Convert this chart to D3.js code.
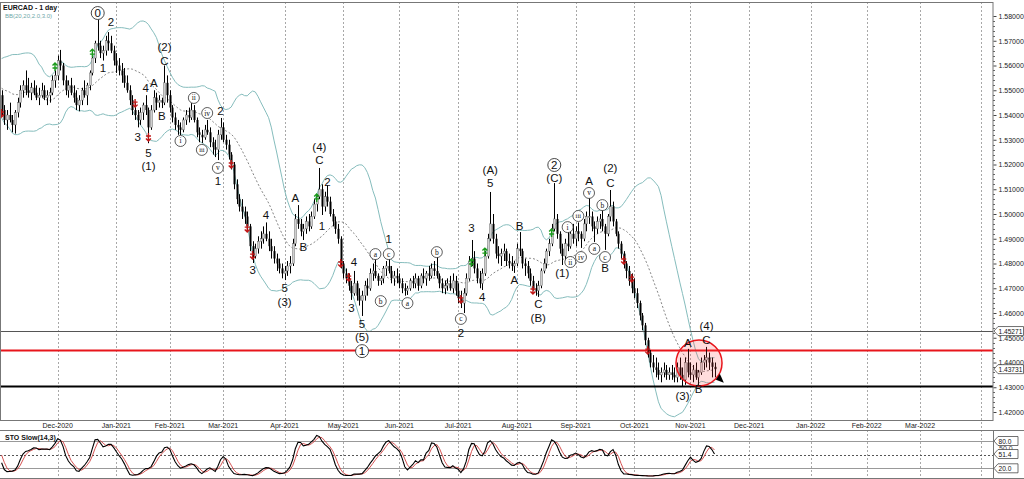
<!DOCTYPE html>
<html><head><meta charset="utf-8">
<script src="https://cdn.jsdelivr.net/npm/d3@7"></script>
<style>body{margin:0;background:#fff}svg{display:block;font-family:"Liberation Sans",Arial,sans-serif}</style>
</head><body><svg id="c" width="1024" height="479"></svg>
<script>
// ---------- DATA ----------
const symbolTitle = "EURCAD - 1 day";
const bbTitle = "BB(20,20,2.0,3.0)";
const stoTitle = "STO Slow(14,3)";
const startDate = "2020-11-02";
const holidays = ["2020-12-25","2021-01-01"];
const monthTicks = ["2020-12","2021-01","2021-02","2021-03","2021-04","2021-05","2021-06","2021-07","2021-08","2021-09","2021-10","2021-11","2021-12","2022-01","2022-02","2022-03"];
const priceTicks = [1.42,1.43,1.44,1.45,1.46,1.47,1.48,1.49,1.50,1.51,1.52,1.53,1.54,1.55,1.56,1.57,1.58];

// October 2020 bars (before the visible window, for the indicators)
const preHigh = [1.5600,1.5580,1.5540,1.5510,1.5530,1.5520,1.5490,1.5480,1.5460,1.5490,1.5510,1.5560,1.5590,1.5630,1.5650,1.5630,1.5640,1.5610,1.5570,1.5530];
const preLow  = [1.5530,1.5500,1.5460,1.5440,1.5450,1.5450,1.5420,1.5410,1.5390,1.5410,1.5440,1.5470,1.5510,1.5550,1.5580,1.5560,1.5570,1.5530,1.5490,1.5460];
const preClose= [1.5560,1.5520,1.5480,1.5470,1.5500,1.5470,1.5450,1.5440,1.5420,1.5460,1.5480,1.5530,1.5560,1.5600,1.5620,1.5580,1.5600,1.5560,1.5520,1.5480];

const highs = [
1.5500,1.5440,1.5420,1.5450,1.5400,1.5420,1.5470,1.5520,1.5540,1.5580,1.5550,1.5530,1.5540,1.5520,1.5510,1.5530,1.5520,1.5500,1.5510,1.5560,1.5580,
1.5640,1.5663,1.5610,1.5560,1.5540,1.5550,1.5520,1.5500,1.5480,1.5510,1.5540,1.5530,1.5580,1.5640,1.5700,1.5785,1.5700,1.5680,1.5720,1.5735,1.5720,1.5680,
1.5650,1.5630,1.5610,1.5590,1.5560,1.5520,1.5480,1.5450,1.5420,1.5430,1.5450,1.5480,1.5430,1.5440,1.5500,1.5490,1.5480,1.5470,1.5600,1.5560,
1.5500,1.5440,1.5410,1.5380,1.5370,1.5390,1.5420,1.5430,1.5448,1.5440,1.5390,1.5350,1.5340,1.5360,1.5380,1.5350,1.5310,1.5300,1.5340,1.5388,
1.5370,1.5320,1.5300,1.5250,1.5210,1.5140,1.5080,1.5060,1.5030,1.5010,1.4960,1.4890,1.4880,1.4910,1.4930,1.4950,1.4966,1.4930,1.4900,1.4870,1.4840,1.4820,1.4800,
1.4790,1.4810,1.4830,1.4900,1.5000,1.5036,1.4980,1.4960,1.4990,1.5000,1.5010,1.5060,1.5080,1.5186,1.5120,1.5090,1.5117,1.5070,1.5020,1.4990,1.4960,1.4910,
1.4810,1.4780,1.4760,1.4730,1.4770,1.4730,1.4700,1.4690,1.4730,1.4740,1.4780,1.4800,1.4822,1.4760,1.4750,1.4790,1.4810,1.4834,1.4790,1.4770,1.4780,
1.4760,1.4740,1.4720,1.4710,1.4740,1.4750,1.4760,1.4750,1.4760,1.4780,1.4770,1.4790,1.4800,1.4810,1.4834,1.4760,1.4740,1.4730,1.4740,1.4750,1.4760,1.4750,
1.4720,1.4690,1.4700,1.4760,1.4830,1.4895,1.4850,1.4800,1.4770,1.4780,1.4850,1.4920,1.5089,1.5000,1.4920,1.4870,1.4860,1.4880,1.4860,1.4840,1.4830,1.4810,
1.4880,1.4927,1.4860,1.4820,1.4810,1.4780,1.4750,1.4720,1.4730,1.4780,1.4820,1.4860,1.4900,1.4960,1.5125,1.5000,1.4930,1.4880,1.4900,1.4930,1.4940,1.4960,
1.4950,1.4966,1.4930,1.4980,1.5010,1.5065,1.5010,1.4970,1.4990,1.5000,1.5020,1.4960,1.5000,1.5097,1.5050,1.4980,1.4930,1.4890,1.4850,1.4810,1.4790,1.4760,
1.4740,1.4700,1.4650,1.4600,1.4560,1.4500,1.4450,1.4430,1.4420,1.4400,1.4380,1.4400,1.4390,1.4380,1.4390,1.4380,1.4400,1.4420,1.4380,1.4420,1.4455,
1.4400,1.4390,1.4400,1.4370,1.4420,1.4430,1.4463,1.4440,1.4420,1.4400];
const lows = [
1.5400,1.5360,1.5340,1.5370,1.5330,1.5325,1.5390,1.5430,1.5470,1.5480,1.5470,1.5460,1.5480,1.5460,1.5440,1.5470,1.5460,1.5440,1.5450,1.5480,1.5510,
1.5540,1.5580,1.5520,1.5480,1.5470,1.5480,1.5450,1.5420,1.5415,1.5440,1.5470,1.5440,1.5500,1.5560,1.5610,1.5660,1.5630,1.5620,1.5640,1.5660,1.5650,1.5600,
1.5570,1.5560,1.5530,1.5510,1.5490,1.5440,1.5400,1.5380,1.5350,1.5360,1.5380,1.5400,1.5286,1.5340,1.5410,1.5420,1.5430,1.5428,1.5440,1.5450,
1.5410,1.5370,1.5340,1.5320,1.5319,1.5330,1.5360,1.5370,1.5380,1.5370,1.5310,1.5290,1.5287,1.5300,1.5320,1.5270,1.5240,1.5230,1.5218,1.5300,
1.5290,1.5260,1.5220,1.5180,1.5100,1.5040,1.5010,1.4980,1.4960,1.4935,1.4850,1.4802,1.4820,1.4840,1.4860,1.4880,1.4890,1.4850,1.4820,1.4800,1.4770,1.4760,1.4740,
1.4733,1.4750,1.4760,1.4790,1.4870,1.4940,1.4910,1.4895,1.4920,1.4930,1.4940,1.4980,1.5010,1.5060,1.4996,1.5010,1.5030,1.4990,1.4950,1.4920,1.4880,1.4780,
1.4740,1.4720,1.4690,1.4653,1.4670,1.4650,1.4630,1.4588,1.4650,1.4670,1.4690,1.4730,1.4740,1.4710,1.4713,1.4720,1.4750,1.4760,1.4720,1.4710,1.4720,
1.4700,1.4680,1.4670,1.4673,1.4690,1.4700,1.4700,1.4690,1.4700,1.4720,1.4710,1.4730,1.4740,1.4750,1.4740,1.4700,1.4680,1.4676,1.4690,1.4690,1.4680,1.4670,
1.4640,1.4620,1.4600,1.4670,1.4730,1.4790,1.4760,1.4720,1.4700,1.4693,1.4750,1.4820,1.4890,1.4880,1.4820,1.4800,1.4790,1.4810,1.4790,1.4780,1.4770,1.4762,
1.4790,1.4830,1.4780,1.4750,1.4740,1.4710,1.4690,1.4670,1.4665,1.4700,1.4760,1.4780,1.4830,1.4870,1.4930,1.4900,1.4840,1.4794,1.4810,1.4850,1.4860,1.4880,
1.4870,1.4890,1.4863,1.4890,1.4930,1.4960,1.4930,1.4887,1.4920,1.4940,1.4930,1.4855,1.4910,1.4970,1.4950,1.4910,1.4860,1.4820,1.4780,1.4740,1.4710,1.4680,
1.4660,1.4620,1.4570,1.4530,1.4470,1.4420,1.4380,1.4360,1.4340,1.4330,1.4320,1.4340,1.4330,1.4330,1.4330,1.4320,1.4320,1.4330,1.4303,1.4310,1.4340,
1.4330,1.4320,1.4330,1.4309,1.4350,1.4370,1.4380,1.4370,1.4340,1.4340];
const closes = [
1.5420,1.5380,1.5400,1.5380,1.5360,1.5410,1.5450,1.5500,1.5520,1.5500,1.5490,1.5510,1.5490,1.5470,1.5480,1.5500,1.5470,1.5480,1.5490,1.5540,1.5560,
1.5620,1.5600,1.5540,1.5500,1.5520,1.5490,1.5470,1.5440,1.5460,1.5500,1.5480,1.5520,1.5570,1.5630,1.5690,1.5680,1.5650,1.5660,1.5700,1.5690,1.5660,1.5620,
1.5600,1.5580,1.5560,1.5530,1.5500,1.5460,1.5420,1.5400,1.5380,1.5410,1.5440,1.5420,1.5350,1.5420,1.5470,1.5450,1.5460,1.5450,1.5530,1.5480,
1.5430,1.5390,1.5360,1.5350,1.5340,1.5380,1.5400,1.5390,1.5420,1.5380,1.5330,1.5320,1.5310,1.5340,1.5330,1.5290,1.5270,1.5260,1.5320,1.5350,
1.5300,1.5280,1.5240,1.5200,1.5120,1.5060,1.5030,1.5010,1.4990,1.4950,1.4870,1.4830,1.4860,1.4890,1.4900,1.4920,1.4900,1.4870,1.4850,1.4820,1.4800,1.4780,1.4760,
1.4770,1.4790,1.4800,1.4880,1.4980,1.4960,1.4930,1.4940,1.4970,1.4950,1.4990,1.5040,1.5070,1.5100,1.5030,1.5070,1.5050,1.5000,1.4970,1.4940,1.4900,1.4800,
1.4760,1.4740,1.4710,1.4680,1.4720,1.4670,1.4650,1.4670,1.4710,1.4700,1.4760,1.4770,1.4750,1.4730,1.4740,1.4780,1.4790,1.4770,1.4740,1.4750,1.4740,
1.4720,1.4700,1.4690,1.4700,1.4730,1.4720,1.4740,1.4710,1.4750,1.4740,1.4760,1.4750,1.4780,1.4770,1.4750,1.4720,1.4700,1.4710,1.4720,1.4700,1.4730,1.4690,
1.4660,1.4640,1.4680,1.4740,1.4810,1.4820,1.4780,1.4740,1.4720,1.4760,1.4830,1.4900,1.4960,1.4900,1.4840,1.4830,1.4840,1.4850,1.4810,1.4800,1.4790,1.4800,
1.4860,1.4850,1.4800,1.4790,1.4760,1.4730,1.4700,1.4690,1.4710,1.4770,1.4800,1.4850,1.4880,1.4940,1.4980,1.4920,1.4860,1.4830,1.4880,1.4870,1.4920,1.4900,
1.4930,1.4920,1.4900,1.4960,1.4990,1.4990,1.4950,1.4940,1.4970,1.4980,1.4950,1.4920,1.4990,1.5030,1.4970,1.4920,1.4880,1.4840,1.4800,1.4770,1.4730,1.4700,
1.4680,1.4640,1.4590,1.4550,1.4490,1.4440,1.4400,1.4380,1.4370,1.4350,1.4360,1.4370,1.4350,1.4360,1.4350,1.4340,1.4380,1.4350,1.4330,1.4400,1.4360,
1.4350,1.4370,1.4340,1.4360,1.4400,1.4410,1.4420,1.4400,1.43825,1.43731];

const upArrows = [[20,1.5594],[34,1.5650],[118,1.5065],[176,1.4802],[181,1.4846],[206,1.4923]];
const downArrows = [[0,1.5408],[50,1.5448],[55,1.5311],[86,1.5202],[92,1.4943],[94,1.4834],[127,1.4802],[130,1.4745],[172,1.4657],[199,1.4693],[233,1.4814],[236,1.4741],[242,1.4450]];

// [bar index, price, text, kind]  kind 0 = plain, 1 = small circled, 2 = circled digit
const waveLabels = [
[36,1.5812,"0",2],[41,1.5776,"2",0],[38,1.5590,"1",0],
[61,1.5675,"(2)",0],[61,1.5618,"C",0],[57,1.5529,"A",0],[54,1.5509,"4",0],[60,1.5396,"B",0],
[51,1.5311,"3",0],[55,1.5246,"5",0],[55,1.5194,"(1)",0],
[72,1.5469,"ii",1],[77,1.5408,"iv",1],[67,1.5295,"i",1],[75,1.5259,"iii",1],[81,1.5186,"v",1],[81,1.5133,"1",0],[82,1.5416,"2",0],
[99,1.4996,"4",0],[94,1.4774,"3",0],[106,1.4701,"5",0],[106,1.4644,"(3)",0],
[110,1.5065,"A",0],[113,1.4867,"B",0],[119,1.5271,"(4)",0],[119,1.5218,"C",0],[122,1.5129,"2",0],[120,1.4952,"1",0],
[132,1.4806,"4",0],[131,1.4620,"3",0],[135,1.4556,"5",0],[135,1.4503,"(5)",0],[135,1.4446,"1",2],
[140,1.4838,"a",1],[142,1.4648,"b",1],[145,1.4838,"c",1],[145,1.4899,"1",0],
[152,1.4640,"a",1],[163,1.4846,"b",1],[172,1.4576,"c",1],[172,1.4519,"2",0],
[176,1.4943,"3",0],[180,1.4665,"4",0],[183,1.5125,"5",0],[183,1.5178,"(A)",0],
[194,1.4952,"B",0],[192,1.4733,"A",0],[201,1.4636,"C",0],[201,1.4580,"(B)",0],
[207,1.5145,"(C)",0],[207,1.5198,"2",2],
[210,1.4762,"(1)",0],[213,1.4806,"ii",1],[212,1.4947,"i",1],[216,1.4992,"iii",1],[217,1.4826,"iv",1],[220,1.5085,"v",1],[220,1.5133,"A",0],
[222,1.4859,"a",1],[225,1.5036,"b",1],[226,1.4826,"c",1],[226,1.4782,"B",0],[228,1.5184,"(2)",0],[228,1.5125,"C",0],
[257,1.4479,"A",0],[261,1.4293,"B",0],[264,1.4546,"(4)",0],[264,1.4491,"C",0],[255,1.4265,"(3)",0]];

const levels = [1.45271, 1.4450, 1.4305];
const lastPrice = 1.43731;
const focus = [261.2, 1.4398];     // highlighted zone (bar index, price)
const pointer = [269, 1.4338];     // forecast arrow (bar index, price)
const stoLevels = [80, 50, 20];

// ---------- LAYOUT ----------
const svg = d3.select("#c");
const axisX = 993, mainTop = 2, mainBot = 420, stTop = 431, stBot = 478;
const x = d3.scaleLinear().domain([0, 344]).range([1.6, 920.1]);
const y = d3.scaleLinear().domain([1.42, 1.58]).range([412, 16]);
const ys = d3.scaleLinear().domain([0, 100]).range([477.4, 431.9]);

const defs = svg.append("defs");
defs.append("clipPath").attr("id","cm").append("rect").attr("x",0).attr("y",mainTop).attr("width",axisX).attr("height",mainBot-mainTop);
defs.append("clipPath").attr("id","cs").append("rect").attr("x",0).attr("y",stTop).attr("width",axisX).attr("height",stBot-stTop);

// dates
const parse = d3.utcParse("%Y-%m-%d"), fmt = d3.utcFormat("%Y-%m-%d");
const dates = [];
for (let d = parse(startDate); dates.length < 360; d = d3.utcDay.offset(d, 1)) {
  const wd = d.getUTCDay();
  if (wd === 0 || wd === 6) continue;
  if (holidays.includes(fmt(d))) continue;
  dates.push(d);
}
const monthIdx = monthTicks.map(m => dates.findIndex(d => fmt(d).slice(0,7) === m));
const monFmt = d3.utcFormat("%b-%Y");

// vertical grid
svg.append("g").selectAll("line").data(monthIdx).join("line")
  .attr("x1", d => Math.round(x(d))+0.5).attr("x2", d => Math.round(x(d))+0.5)
  .attr("y1", mainTop).attr("y2", stBot)
  .attr("stroke", "#a8a8a8").attr("stroke-width", 1).attr("stroke-dasharray", "2,2");
svg.append("line").attr("x1",981.5).attr("x2",981.5).attr("y1",mainTop).attr("y2",stBot)
  .attr("stroke","#a8a8a8").attr("stroke-dasharray","2,2");

// date labels
svg.append("g").selectAll("text").data(monthIdx).join("text")
  .attr("x", d => x(d)).attr("y", 428).attr("text-anchor","middle")
  .attr("font-size", 7).attr("fill", "#222")
  .text((d) => monFmt(dates[d]));

// ---------- INDICATORS ----------
const allH = preHigh.concat(highs), allL = preLow.concat(lows), allC = preClose.concat(closes);
const off = preClose.length;
const bb = closes.map((c, i) => {
  const k = i + off, w = allC.slice(k-19, k+1);
  const m = d3.mean(w), sd = Math.sqrt(d3.mean(w, v => (v-m)*(v-m)));
  return {i, m, up: m + 2*sd, lo: m - 2*sd};
});
const LL = allL.map((v,k) => k < 13 ? null : d3.min(allL.slice(k-13,k+1)));
const HH = allH.map((v,k) => k < 13 ? null : d3.max(allH.slice(k-13,k+1)));
const K = allC.map((c,k) => {
  if (k < 15) return null;
  let a = 0, b = 0;
  for (let j = k-2; j <= k; j++) { a += allC[j]-LL[j]; b += HH[j]-LL[j]; }
  return b ? 100*a/b : 50;
});
const D = K.map((v,k) => k < 17 ? null : (K[k]+K[k-1]+K[k-2])/3);
const sto = closes.map((c,i) => ({i, k: K[i+off], d: D[i+off]}));

// ---------- MAIN PANEL ----------
const gm = svg.append("g").attr("clip-path","url(#cm)");
const lineBB = key => d3.line().x(d => x(d.i)).y(d => y(d[key]));
gm.append("path").datum(bb).attr("d", lineBB("up")).attr("fill","none").attr("stroke","#86bdbd").attr("stroke-width",1);
gm.append("path").datum(bb).attr("d", lineBB("lo")).attr("fill","none").attr("stroke","#86bdbd").attr("stroke-width",1);
gm.append("path").datum(bb).attr("d", lineBB("m")).attr("fill","none").attr("stroke","#666").attr("stroke-width",0.8).attr("stroke-dasharray","2,2");

// levels
const levStyle = [{c:"#555",w:1},{c:"#e8151b",w:2},{c:"#000",w:2}];
gm.selectAll(".lev").data(levels).join("line").attr("class","lev")
  .attr("x1",0).attr("x2",axisX).attr("y1",d=>Math.round(y(d))+0.5).attr("y2",d=>Math.round(y(d))+0.5)
  .attr("stroke",(d,i)=>levStyle[i].c).attr("stroke-width",(d,i)=>levStyle[i].w);

// candles
const bars = closes.map((c,i) => ({i, o: i ? closes[i-1] : preClose[preClose.length-1], h: highs[i], l: lows[i], c}));
const gb = gm.append("g");
gb.selectAll("line").data(bars).join("line")
  .attr("x1", d => Math.round(x(d.i))+0.5).attr("x2", d => Math.round(x(d.i))+0.5)
  .attr("y1", d => y(Math.max(d.h,d.o,d.c))).attr("y2", d => y(Math.min(d.l,d.o,d.c)))
  .attr("stroke","#000").attr("stroke-width",1);
gb.selectAll("rect").data(bars).join("rect")
  .attr("x", d => Math.round(x(d.i))-0.5).attr("width", 2)
  .attr("y", d => y(Math.max(d.o,d.c))).attr("height", d => Math.max(1, Math.abs(y(d.o)-y(d.c))))
  .attr("fill", d => d.c >= d.o ? "#cfcfcf" : "#000")
  .attr("stroke", d => d.c >= d.o ? "#555" : "none").attr("stroke-width",0.4);

// signal arrows
const ga = gm.append("g");
ga.selectAll(".ua").data(upArrows).join("path").attr("class","ua")
  .attr("transform", d => `translate(${x(d[0])},${y(d[1])})`)
  .attr("d","M0,-4L0,4M-2.5,-1.5L0,-4L2.5,-1.5M-2.5,1L2.5,1")
  .attr("stroke","#1a9a1a").attr("stroke-width",1.4).attr("fill","none");
ga.selectAll(".da").data(downArrows).join("path").attr("class","da")
  .attr("transform", d => `translate(${x(d[0])},${y(d[1])})`)
  .attr("d","M0,-4L0,4M-2.5,1.5L0,4L2.5,1.5M-2.5,-1L2.5,-1")
  .attr("stroke","#c01818").attr("stroke-width",1.4).attr("fill","none");

// focus circle
gm.append("circle").attr("cx", x(focus[0])).attr("cy", y(focus[1])).attr("r", 23)
  .attr("fill","rgba(255,60,60,0.18)").attr("stroke","#e8151b").attr("stroke-width",1.5);
// pointer
const px = x(pointer[0]), py = y(pointer[1]);
gm.append("path").attr("d", `M${px+4},${py+5}L${px-4},${py+2}L${px},${py-4}Z`).attr("fill","#000");

// wave labels
const gw = gm.append("g");
waveLabels.forEach(([i, p, t, k]) => {
  const cx = x(i), cy = y(p);
  if (k === 0) {
    gw.append("text").attr("x",cx).attr("y",cy+4).attr("text-anchor","middle")
      .attr("font-size",11.5).attr("fill","#111").text(t);
  } else if (k === 1) {
    gw.append("circle").attr("cx",cx).attr("cy",cy).attr("r",5.5).attr("fill","#fff").attr("stroke","#333").attr("stroke-width",0.8);
    gw.append("text").attr("x",cx).attr("y",cy+2.5).attr("text-anchor","middle")
      .attr("font-family","'Liberation Serif',serif").attr("font-size",t.length>2?6.5:7.5).attr("fill","#111").text(t);
  } else {
    gw.append("circle").attr("cx",cx).attr("cy",cy).attr("r",6.5).attr("fill","#fff").attr("stroke","#333").attr("stroke-width",0.9);
    gw.append("text").attr("x",cx).attr("y",cy+4).attr("text-anchor","middle")
      .attr("font-size",11.5).attr("fill","#111").text(t);
  }
});

// titles
svg.append("text").attr("x",3).attr("y",10).attr("font-size",7).attr("font-weight","bold").attr("fill","#111").text(symbolTitle);
svg.append("text").attr("x",5).attr("y",18).attr("font-size",6).attr("fill","#6fa8a8").text(bbTitle);

// frames
svg.append("rect").attr("x",0.5).attr("y",mainTop+0.5).attr("width",axisX-0.5).attr("height",mainBot-mainTop).attr("fill","none").attr("stroke","#777").attr("stroke-width",1);
svg.append("line").attr("x1",0).attr("x2",1024).attr("y1",stTop-0.5).attr("y2",stTop-0.5).attr("stroke","#777");
svg.append("line").attr("x1",axisX+0.5).attr("x2",axisX+0.5).attr("y1",stTop).attr("y2",stBot).attr("stroke","#777");
svg.append("line").attr("x1",0).attr("x2",1024).attr("y1",stBot+0.5).attr("y2",stBot+0.5).attr("stroke","#777");

// price axis
const ax = svg.append("g").attr("transform",`translate(${axisX+0.5},0)`)
  .call(d3.axisRight(y).tickValues(priceTicks).tickFormat(d3.format(".5f")).tickSize(3).tickSizeOuter(0));
ax.select(".domain").remove();
ax.selectAll("text").attr("font-size",7).attr("fill","#222").attr("font-family","'Liberation Sans',Arial,sans-serif").attr("x",5);
ax.selectAll("line").attr("stroke","#444");
const minor = d3.range(1.42, 1.5801, 0.002).filter(v => Math.abs(v*100 - Math.round(v*100)) > 1e-6);
svg.append("g").selectAll("line").data(minor).join("line")
  .attr("x1",axisX).attr("x2",axisX+2).attr("y1",d=>Math.round(y(d))+0.5).attr("y2",d=>Math.round(y(d))+0.5)
  .attr("stroke","#666");

// tags
function tag(yy, txt, wdt) {
  const g = svg.append("g").attr("transform",`translate(${axisX+1},${yy})`);
  g.append("path").attr("d",`M0,0L4,-4.5L${wdt},-4.5L${wdt},4.5L4,4.5Z`).attr("fill","#fff").attr("stroke","#333").attr("stroke-width",0.7);
  g.append("text").attr("x",4.5).attr("y",2.5).attr("font-size",6.6).attr("fill","#111").text(txt);
}
tag(y(levels[0]), "1.45271", 29.5);
tag(y(lastPrice), "1.43731", 29.5);

// ---------- STOCHASTIC PANEL ----------
const gs = svg.append("g").attr("clip-path","url(#cs)");
gs.selectAll(".sl").data(stoLevels).join("line").attr("class","sl")
  .attr("x1",0).attr("x2",axisX).attr("y1",d=>Math.round(ys(d))+0.5).attr("y2",d=>Math.round(ys(d))+0.5)
  .attr("stroke",d => d===50 ? "#555" : "#999").attr("stroke-width",1).attr("stroke-dasharray",d => d===50 ? "2,2" : null);
const sl = key => d3.line().defined(d => d[key] != null).x(d => x(d.i)).y(d => ys(d[key]));
gs.append("path").datum(sto).attr("d", sl("d")).attr("fill","none").attr("stroke","#d04040").attr("stroke-width",0.9);
gs.append("path").datum(sto).attr("d", sl("k")).attr("fill","none").attr("stroke","#000").attr("stroke-width",1.1);
svg.append("text").attr("x",5).attr("y",440).attr("font-size",7).attr("font-weight","bold").attr("fill","#111").text(stoTitle);

svg.append("text").attr("x",axisX+6).attr("y",451).attr("font-size",7).attr("fill","#444").text("50.0");
tag(ys(80), "80.0", 24);
tag(ys(sto[sto.length-1].k), d3.format(".1f")(sto[sto.length-1].k), 24);
tag(ys(20), "20.0", 24);
</script></body></html>
